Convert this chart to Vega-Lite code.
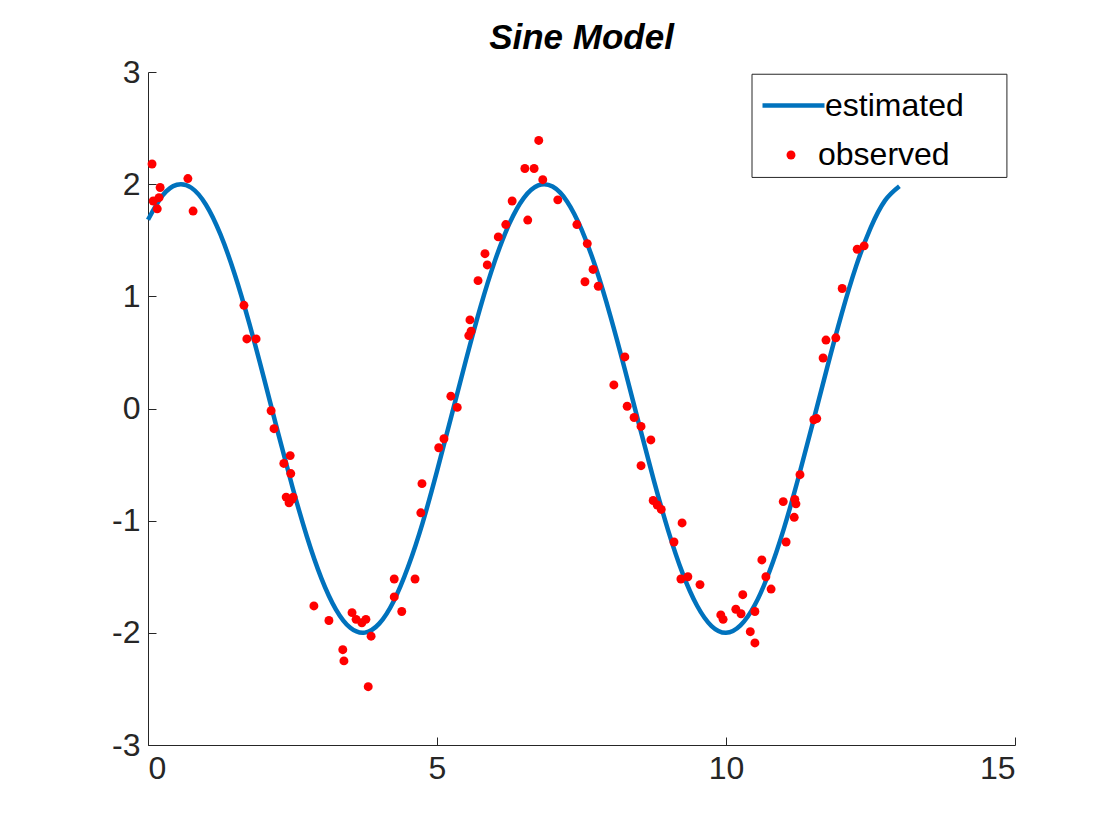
{
  "$schema": "https://vega.github.io/schema/vega-lite/v6.json",
  "autosize": "none",
  "width": 867,
  "height": 673,
  "padding": {"left": 148, "top": 72, "right": 105, "bottom": 95},
  "background": "white",
  "title": {"text": "Sine Model", "font": "Liberation Sans", "fontSize": 35, "fontStyle": "italic", "fontWeight": "bold", "color": "black", "offset": 0},
  "config": {
    "view": {"stroke": null},
    "axis": {"grid": false, "labelFont": "Liberation Sans", "labelFontSize": 32, "labelColor": "#262626", "domainColor": "#262626", "tickColor": "#262626", "tickSize": -8, "labelPadding": 16, "title": null},
    "legend": {"labelFont": "Liberation Sans", "labelFontSize": 32, "labelColor": "black", "padding": 0, "title": null}
  },
  "datasets": {
    "fit": [
      {"x":0,"y":1.683},{"x":0.25,"y":1.898},{"x":0.5,"y":1.995},{"x":0.75,"y":1.968},{"x":1,"y":1.819},{"x":1.25,"y":1.556},{"x":1.5,"y":1.197},{"x":1.75,"y":0.763},{"x":2,"y":0.282},{"x":2.25,"y":-0.217},{"x":2.5,"y":-0.702},{"x":2.75,"y":-1.143},{"x":3,"y":-1.514},{"x":3.25,"y":-1.79},{"x":3.5,"y":-1.955},{"x":3.75,"y":-1.998},{"x":4,"y":-1.918},{"x":4.25,"y":-1.718},{"x":4.5,"y":-1.411},{"x":4.75,"y":-1.021},{"x":5,"y":-0.559},{"x":5.25,"y":-0.066},{"x":5.5,"y":0.43},{"x":5.75,"y":0.902},{"x":6,"y":1.314},{"x":6.25,"y":1.646},{"x":6.5,"y":1.876},{"x":6.75,"y":1.989},{"x":7,"y":1.979},{"x":7.25,"y":1.846},{"x":7.5,"y":1.596},{"x":7.75,"y":1.25},{"x":8,"y":0.824},{"x":8.25,"y":0.348},{"x":8.5,"y":-0.15},{"x":8.75,"y":-0.638},{"x":9,"y":-1.088},{"x":9.25,"y":-1.47},{"x":9.5,"y":-1.759},{"x":9.75,"y":-1.94},{"x":10,"y":-2.0},{"x":10.25,"y":-1.934},{"x":10.5,"y":-1.75},{"x":10.75,"y":-1.456},{"x":11,"y":-1.073},{"x":11.25,"y":-0.622},{"x":11.5,"y":-0.133},{"x":11.75,"y":0.364},{"x":12,"y":0.841},{"x":12.25,"y":1.267},{"x":12.5,"y":1.608},{"x":12.75,"y":1.853},{"x":13,"y":1.981}
    ],
    "obs": [
      {"x":0.07,"y":2.18},{"x":0.09,"y":1.85},{"x":0.16,"y":1.78},{"x":0.19,"y":1.88},{"x":0.21,"y":1.97},{"x":0.69,"y":2.05},{"x":0.78,"y":1.76},{"x":1.66,"y":0.92},{"x":1.71,"y":0.62},{"x":1.87,"y":0.62},{"x":2.13,"y":-0.02},{"x":2.18,"y":-0.18},{"x":2.35,"y":-0.49},{"x":2.39,"y":-0.79},{"x":2.46,"y":-0.42},{"x":2.47,"y":-0.58},{"x":2.49,"y":-0.81},{"x":2.51,"y":-0.79},{"x":2.44,"y":-0.84},{"x":2.87,"y":-1.76},{"x":3.13,"y":-1.89},{"x":3.37,"y":-2.15},{"x":3.39,"y":-2.25},{"x":3.53,"y":-1.82},{"x":3.6,"y":-1.88},{"x":3.7,"y":-1.91},{"x":3.77,"y":-1.88},{"x":3.81,"y":-2.48},{"x":3.86,"y":-2.03},{"x":4.26,"y":-1.52},{"x":4.26,"y":-1.68},{"x":4.39,"y":-1.81},{"x":4.62,"y":-1.52},{"x":4.72,"y":-0.93},{"x":4.74,"y":-0.67},{"x":5.03,"y":-0.35},{"x":5.12,"y":-0.27},{"x":5.24,"y":0.11},{"x":5.35,"y":0.01},{"x":5.55,"y":0.65},{"x":5.57,"y":0.79},{"x":5.59,"y":0.69},{"x":5.71,"y":1.14},{"x":5.83,"y":1.38},{"x":5.87,"y":1.28},{"x":6.06,"y":1.53},{"x":6.19,"y":1.64},{"x":6.3,"y":1.85},{"x":6.52,"y":2.14},{"x":6.57,"y":1.68},{"x":6.68,"y":2.14},{"x":6.76,"y":2.39},{"x":6.83,"y":2.04},{"x":7.09,"y":1.86},{"x":7.42,"y":1.64},{"x":7.56,"y":1.13},{"x":7.6,"y":1.47},{"x":7.7,"y":1.24},{"x":7.79,"y":1.09},{"x":8.25,"y":0.46},{"x":8.06,"y":0.21},{"x":8.29,"y":0.02},{"x":8.41,"y":-0.08},{"x":8.53,"y":-0.16},{"x":8.53,"y":-0.51},{"x":8.7,"y":-0.28},{"x":8.74,"y":-0.82},{"x":8.81,"y":-0.86},{"x":8.88,"y":-0.9},{"x":9.1,"y":-1.19},{"x":9.24,"y":-1.02},{"x":9.22,"y":-1.52},{"x":9.34,"y":-1.5},{"x":9.55,"y":-1.57},{"x":9.91,"y":-1.84},{"x":9.95,"y":-1.88},{"x":10.17,"y":-1.79},{"x":10.26,"y":-1.83},{"x":10.29,"y":-1.66},{"x":10.42,"y":-1.99},{"x":10.5,"y":-2.09},{"x":10.5,"y":-1.81},{"x":10.62,"y":-1.35},{"x":10.69,"y":-1.5},{"x":10.78,"y":-1.61},{"x":10.99,"y":-0.83},{"x":11.04,"y":-1.19},{"x":11.18,"y":-0.97},{"x":11.19,"y":-0.81},{"x":11.21,"y":-0.85},{"x":11.28,"y":-0.59},{"x":11.52,"y":-0.1},{"x":11.57,"y":-0.09},{"x":11.68,"y":0.45},{"x":11.73,"y":0.61},{"x":11.9,"y":0.63},{"x":12.01,"y":1.07},{"x":12.27,"y":1.42},{"x":12.39,"y":1.45}
    ],
    "box": [{"x": 10.45, "x2": 14.86, "y": 2.98, "y2": 2.06}]
  },
  "resolve": {"scale": {"x": "shared", "y": "shared"}},
  "layer": [
    {
      "data": {"name": "box"},
      "mark": {"type": "rect", "fill": "white", "stroke": "#262626", "strokeWidth": 1},
      "encoding": {
        "x": {"field": "x", "type": "quantitative", "scale": {"domain": [0, 15], "nice": false, "zero": false}, "axis": {"values": [0, 5, 10, 15], "format": "d"}},
        "x2": {"field": "x2"},
        "y": {"field": "y", "type": "quantitative", "scale": {"domain": [-3, 3], "nice": false, "zero": false}, "axis": {"values": [-3, -2, -1, 0, 1, 2, 3], "labelExpr": "replace(format(datum.value, 'd'), '−', '-')"}},
        "y2": {"field": "y2"}
      }
    },
    {
      "data": {"name": "fit"},
      "transform": [{"calculate": "'estimated'", "as": "series"}],
      "mark": {"type": "line", "strokeWidth": 4.5, "interpolate": "natural"},
      "encoding": {
        "x": {"field": "x", "type": "quantitative", "scale": {"domain": [0, 15], "nice": false, "zero": false}},
        "y": {"field": "y", "type": "quantitative", "scale": {"domain": [-3, 3], "nice": false, "zero": false}},
        "stroke": {"field": "series", "type": "nominal", "scale": {"domain": ["estimated"], "range": ["#0072BD"]},
          "legend": {"orient": "none", "legendX": 612, "legendY": 0, "symbolType": "stroke", "symbolSize": 3844, "symbolStrokeWidth": 4.5, "labelOffset": -2}}
      }
    },
    {
      "data": {"name": "obs"},
      "transform": [{"calculate": "'observed'", "as": "series"}],
      "mark": {"type": "circle", "size": 80, "opacity": 1},
      "encoding": {
        "x": {"field": "x", "type": "quantitative", "scale": {"domain": [0, 15], "nice": false, "zero": false}},
        "y": {"field": "y", "type": "quantitative", "scale": {"domain": [-3, 3], "nice": false, "zero": false}},
        "fill": {"field": "series", "type": "nominal", "scale": {"domain": ["observed"], "range": ["#FF0000"]},
          "legend": {"orient": "none", "legendX": 627, "legendY": 67, "symbolType": "circle", "symbolSize": 80, "symbolOpacity": 1, "labelOffset": 11}}
      }
    }
  ]
}
